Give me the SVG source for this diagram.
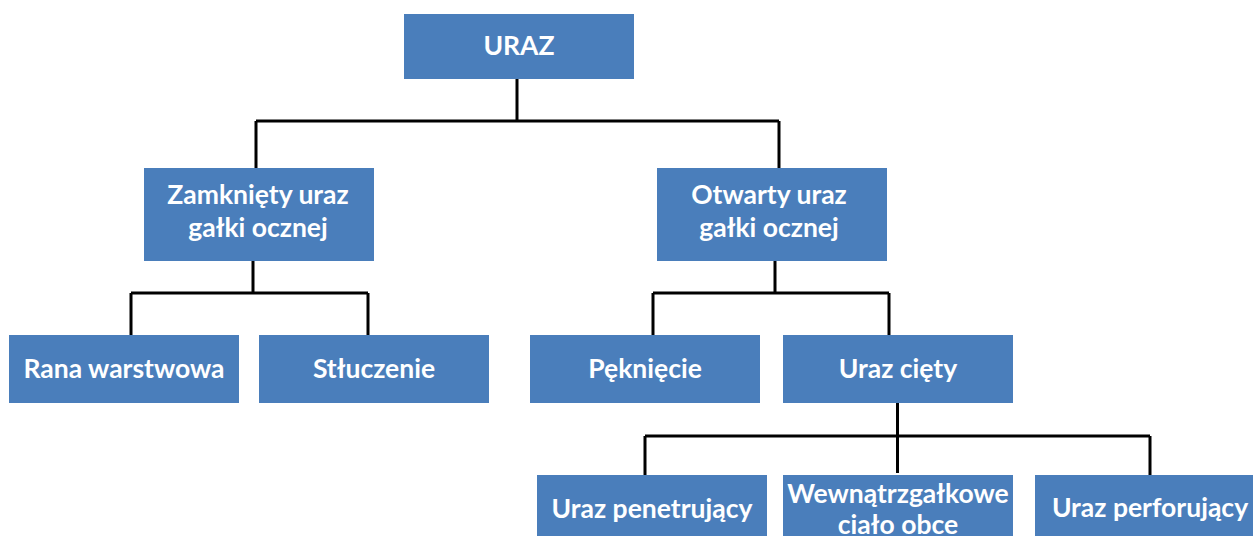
<svg xmlns="http://www.w3.org/2000/svg" width="1253" height="536" viewBox="0 0 1253 536">
<style>
.box{fill:#4A7EBB}
.t{font-family:Lato,"Liberation Sans",sans-serif;font-weight:bold;font-size:26.5px;fill:#FFFFFF;text-anchor:middle}
.c{fill:none;stroke:#000000;stroke-width:3}
</style>
<rect width="1253" height="536" fill="#FFFFFF"/>
<g id="connectors">
<path class="c" d="M517,79 V121 M256,121 H779 M256,121 V168 M779,121 V168"/>
<path class="c" d="M253,261 V293 M131,293 H368 M131,293 V335 M368,293 V335"/>
<path class="c" d="M775,261 V293 M653,293 H889 M653,293 V335 M889,293 V335"/>
<path class="c" d="M897.5,397 V473 M645,436 H1150 M645,436 V475 M1150,436 V475"/>
</g>
<g id="n-uraz"><rect class="box" x="404" y="14" width="230" height="65"/><text class="t" x="519" y="55">URAZ</text></g>
<g id="n-zamkniety"><rect class="box" x="144" y="168" width="230" height="93"/><text class="t" x="258" y="204">Zamknięty uraz</text><text class="t" x="258" y="237">gałki ocznej</text></g>
<g id="n-otwarty"><rect class="box" x="657" y="168" width="230" height="93"/><text class="t" x="769" y="204">Otwarty uraz</text><text class="t" x="769" y="237">gałki ocznej</text></g>
<g id="n-rana"><rect class="box" x="9" y="335" width="230" height="68"/><text class="t" x="124" y="378">Rana warstwowa</text></g>
<g id="n-stluczenie"><rect class="box" x="259" y="335" width="230" height="68"/><text class="t" x="374" y="378">Stłuczenie</text></g>
<g id="n-pekniecie"><rect class="box" x="530" y="335" width="230" height="68"/><text class="t" x="645" y="378">Pęknięcie</text></g>
<g id="n-ciety"><rect class="box" x="783" y="335" width="230" height="68"/><text class="t" x="898" y="378">Uraz cięty</text></g>
<g id="n-penetrujacy"><rect class="box" x="537" y="475" width="230" height="61"/><text class="t" x="652" y="518">Uraz penetrujący</text></g>
<g id="n-cialo"><rect class="box" x="783" y="475" width="230" height="61"/><text class="t" x="898" y="503">Wewnątrzgałkowe</text><text class="t" x="898" y="534">ciało obce</text></g>
<g id="n-perforujacy"><rect class="box" x="1035" y="475" width="230" height="61"/><text class="t" x="1150" y="517">Uraz perforujący</text></g>
</svg>
